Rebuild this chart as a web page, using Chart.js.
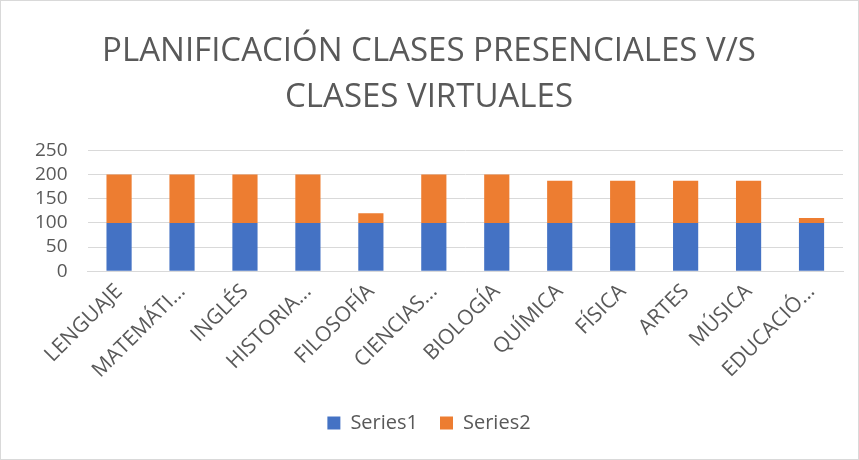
<!DOCTYPE html>
<html>
<head>
<meta charset="utf-8">
<script src="https://cdn.jsdelivr.net/npm/chart.js@4/dist/chart.umd.min.js"></script>
<style>
  html, body { margin: 0; padding: 0; background: #fff; }
  #wrap { width: 857px; height: 458px; border: 1px solid #d9d9d9; position: relative; }
</style>
</head>
<body>
<div id="wrap"><canvas id="chart"></canvas></div>
<script>
// Chart data
const categories = ['LENGUAJE', 'MATEMÁTI...', 'INGLÉS', 'HISTORIA...', 'FILOSOFÍA', 'CIENCIAS...',
  'BIOLOGÍA', 'QUÍMICA', 'FÍSICA', 'ARTES', 'MÚSICA', 'EDUCACIÓ...'];
const series1 = [100, 100, 100, 100, 100, 100, 100, 100, 100, 100, 100, 100];
const series2 = [100, 100, 100, 100, 20, 100, 100, 87, 87, 87, 87, 10];
const titleLines = ['PLANIFICACIÓN CLASES PRESENCIALES V/S', 'CLASES VIRTUALES'];

const textColor = '#595959';
const fontFamily = "'Open Sans', 'Liberation Sans', sans-serif";

new Chart(document.getElementById('chart'), {
  type: 'bar',
  data: {
    labels: categories,
    datasets: [
      { label: 'Series1', data: series1, backgroundColor: '#4472c4', categoryPercentage: 1, barPercentage: 0.4 },
      { label: 'Series2', data: series2, backgroundColor: '#ed7d31', categoryPercentage: 1, barPercentage: 0.4 }
    ]
  },
  options: {
    responsive: true,
    maintainAspectRatio: false,
    animation: false,
    layout: { padding: { left: 14, right: 15, top: 0, bottom: 16 } },
    scales: {
      x: {
        stacked: true,
        grid: { display: false, drawTicks: false },
        border: { color: '#d9d9d9' },
        ticks: {
          color: textColor,
          font: { family: fontFamily, size: 21 },
          minRotation: 45,
          maxRotation: 45,
          autoSkip: false,
          padding: 8
        }
      },
      y: {
        stacked: true,
        min: 0,
        max: 250,
        grid: { color: '#d9d9d9', drawTicks: false },
        border: { display: false },
        ticks: {
          stepSize: 50,
          autoSkip: false,
          color: textColor,
          font: { family: fontFamily, size: 19, lineHeight: 1 },
          padding: 20
        }
      }
    },
    plugins: {
      title: {
        display: true,
        text: titleLines,
        color: textColor,
        font: { family: fontFamily, size: 33, weight: 'normal', lineHeight: 1.4 },
        padding: { top: 27, bottom: 30 }
      },
      legend: {
        position: 'bottom',
        labels: {
          color: textColor,
          font: { family: fontFamily, size: 20 },
          boxWidth: 13,
          boxHeight: 13,
          padding: 22
        }
      },
      tooltip: { enabled: false }
    }
  }
});
</script>
</body>
</html>
